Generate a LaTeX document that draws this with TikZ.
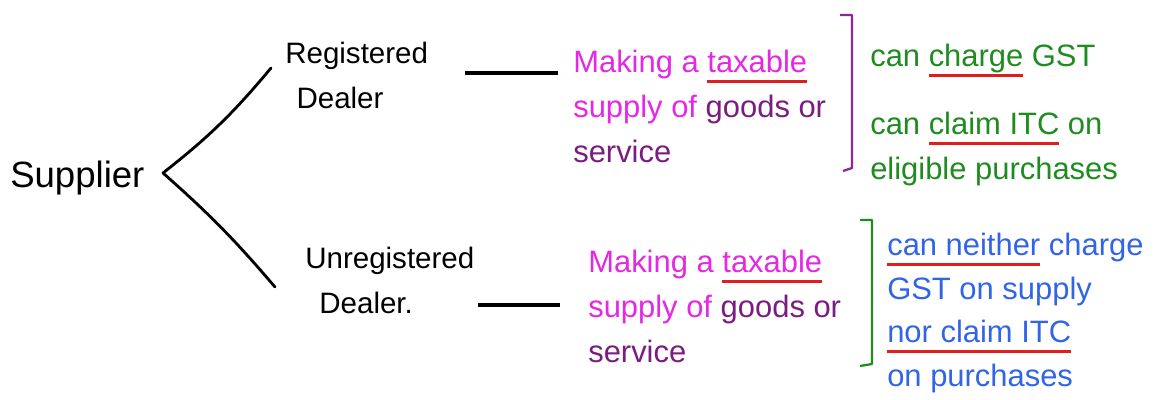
\documentclass[tikz,border=0pt]{standalone}
\usepackage{fontspec}
\setmainfont{Liberation Sans}
\usetikzlibrary{positioning}

\definecolor{mag}{RGB}{228,40,228}
\definecolor{plum}{RGB}{122,28,128}
\definecolor{brk}{RGB}{140,40,155}
\definecolor{grn}{RGB}{30,140,30}
\definecolor{blu}{RGB}{50,100,230}
\definecolor{ulred}{RGB}{225,30,30}

% red underline under a word, text keeps its own colour
\newcommand\redul[1]{\setbox0\hbox{#1}\rlap{\color{ulred}\rule[-7pt]{\wd0}{1.8pt}}\box0\relax}

\begin{document}
\begin{tikzpicture}[
  x=0.025cm, y=-0.025cm,
  lbl/.style={inner sep=0pt,font=\fontsize{21}{32}\selectfont,align=left,anchor=west},
  txt/.style={inner sep=0pt,font=\fontsize{22}{32}\selectfont,align=left,anchor=north west},
  branch/.style={line width=2pt,line cap=round},
  link/.style={line width=2.2pt},
  brace/.style={line width=1.6pt,line join=round}
]
\useasboundingbox (0,0) rectangle (1160,400);

\node[lbl,font=\fontsize{26}{32}\selectfont] (sup) at (10,178) {Supplier};
\node[lbl] (reg) at (285,75) {Registered\\\hspace*{8pt}Dealer};
\node[lbl] (unreg) at (305,280) {Unregistered\\\hspace*{10pt}Dealer.};

\coordinate (fork) at (163,173);
\draw[branch] ([shift={(-14,-7)}]reg.west) to[bend left=6] (fork);
\draw[branch] (fork) to[bend left=4] ([shift={(-30,7)}]unreg.west);

% middle texts
\node[txt,mag] (mid1) at (573,50)
  {Making a \redul{taxable}\\supply of \textcolor{plum}{goods or}\\\textcolor{plum}{service}};
\node[txt,mag] (mid2) at (588,250)
  {Making a \redul{taxable}\\supply of \textcolor{plum}{goods or}\\\textcolor{plum}{service}};

\coordinate (r1) at (465,73);
\coordinate (r2) at (478,305);
\draw[link,shorten >=11pt] (r1) -- (r1 -| mid1.west);
\draw[link,shorten >=20pt] (r2) -- (r2 -| mid2.west);

% brackets
\draw[brace,brk] (840,15) -- (852,15) -- (852,168) -- (843,171);
\draw[brace,grn] (860,220) -- (872,220) -- (872,364) -- (860,366);

% right texts
\node[txt,grn] (chg) at (870,44) {can \redul{charge} GST};
\node[txt,grn] (itc) at (870,112) {can \redul{claim ITC} on\\eligible purchases};
\node[txt,blu,font=\fontsize{22}{31}\selectfont] (neither) at (887,233)
  {\redul{can neither} charge\\GST on supply\\\redul{nor claim ITC}\\on purchases};
\end{tikzpicture}
\end{document}
